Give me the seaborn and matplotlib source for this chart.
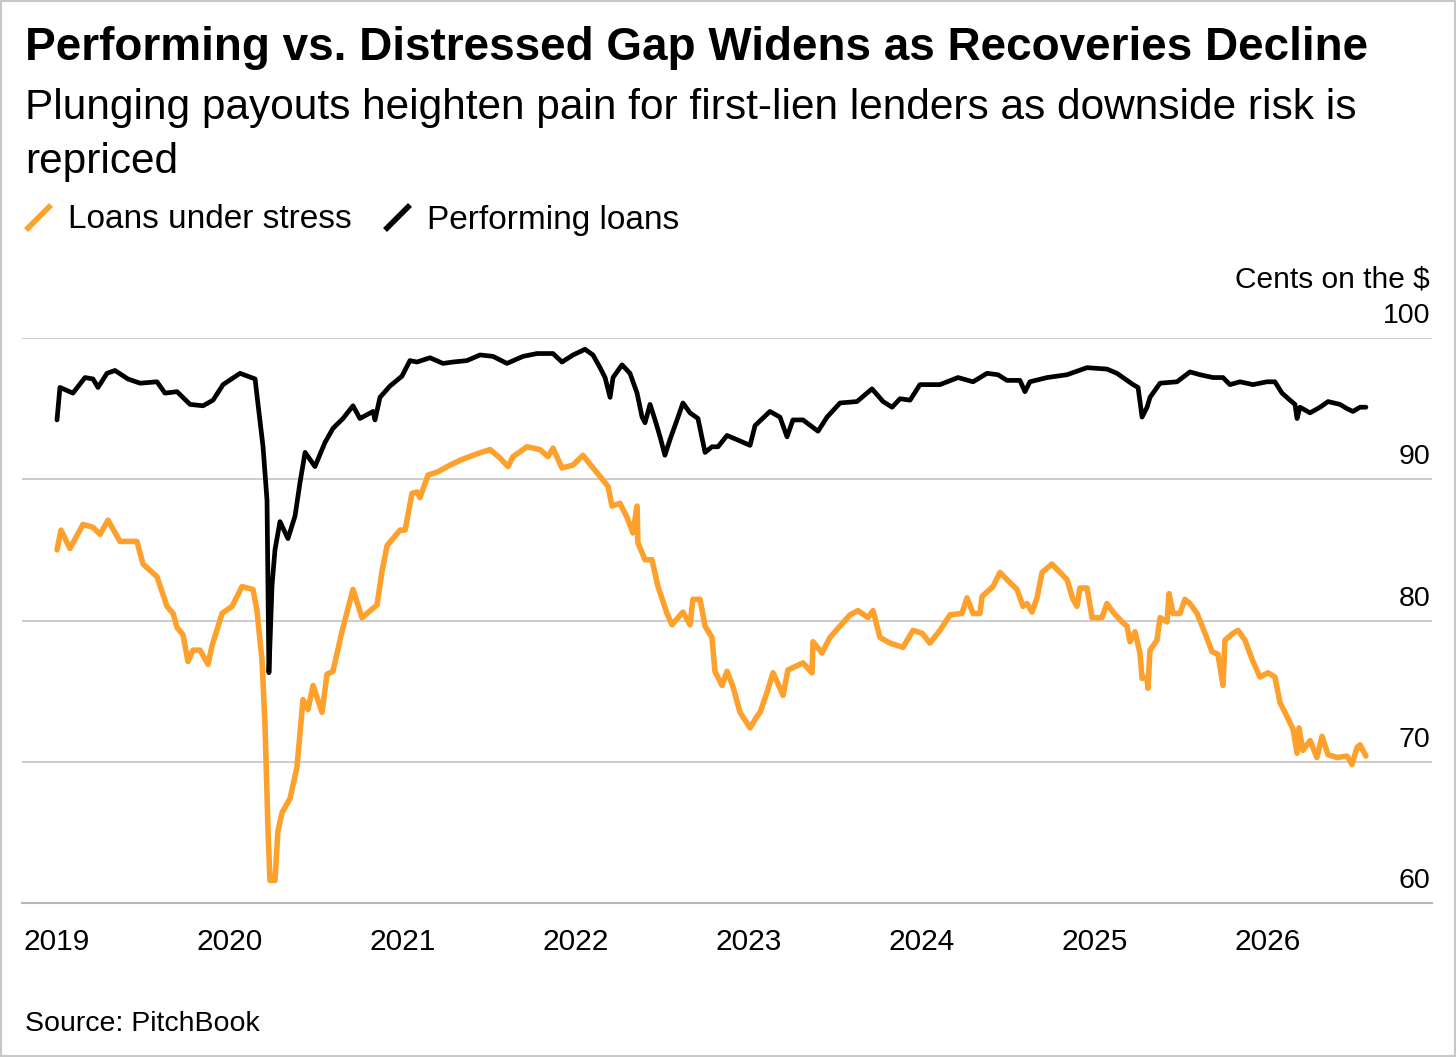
import matplotlib
matplotlib.use("Agg")
import matplotlib.pyplot as plt
import matplotlib.transforms as mtransforms
from matplotlib.lines import Line2D
from matplotlib.patches import Rectangle
from matplotlib.ticker import FixedLocator, MultipleLocator
import seaborn as sns
import pandas as pd

# ---------------- data (decimal years, cents on the dollar) ----------------
perf_t = [2019.000, 2019.017, 2019.092, 2019.162, 2019.208, 2019.237, 2019.289, 2019.335,
          2019.410, 2019.480, 2019.578, 2019.624, 2019.694, 2019.769, 2019.844, 2019.902,
          2019.960, 2020.058, 2020.145, 2020.162, 2020.191, 2020.214, 2020.225, 2020.243,
          2020.260, 2020.289, 2020.335, 2020.376, 2020.405, 2020.434, 2020.491, 2020.549,
          2020.595, 2020.653, 2020.711, 2020.751, 2020.827, 2020.838, 2020.867, 2020.925,
          2020.994, 2021.040, 2021.081, 2021.156, 2021.231, 2021.289, 2021.370, 2021.445,
          2021.520, 2021.601, 2021.694, 2021.775, 2021.867, 2021.919, 2021.983, 2022.052,
          2022.098, 2022.139, 2022.168, 2022.197, 2022.214, 2022.266, 2022.312, 2022.353,
          2022.382, 2022.399, 2022.428, 2022.457, 2022.486, 2022.514, 2022.543, 2022.584,
          2022.618, 2022.659, 2022.705, 2022.746, 2022.786, 2022.821, 2022.873, 2022.931,
          2023.006, 2023.035, 2023.121, 2023.179, 2023.220, 2023.254, 2023.312, 2023.399,
          2023.451, 2023.526, 2023.624, 2023.711, 2023.775, 2023.827, 2023.873, 2023.931,
          2023.988, 2024.104, 2024.208, 2024.295, 2024.376, 2024.439, 2024.491, 2024.566,
          2024.595, 2024.624, 2024.723, 2024.838, 2024.954, 2025.069, 2025.127, 2025.185,
          2025.220, 2025.249, 2025.272, 2025.301, 2025.318, 2025.376, 2025.474, 2025.549,
          2025.607, 2025.682, 2025.740, 2025.780, 2025.838, 2025.913, 2025.994, 2026.040,
          2026.081, 2026.127, 2026.156, 2026.168, 2026.185, 2026.243, 2026.301, 2026.347,
          2026.416, 2026.457, 2026.491, 2026.532, 2026.566]
perf_v = [94.2, 96.5, 96.1, 97.2, 97.1, 96.5, 97.5, 97.7,
          97.1, 96.8, 96.9, 96.1, 96.2, 95.3, 95.2, 95.6,
          96.7, 97.5, 97.1, 95.3, 92.3, 88.5, 76.3, 82.5,
          85.0, 87.0, 85.8, 87.4, 89.8, 91.9, 90.9, 92.6,
          93.6, 94.3, 95.2, 94.3, 94.8, 94.2, 95.8, 96.6,
          97.3, 98.4, 98.3, 98.6, 98.2, 98.3, 98.4, 98.8,
          98.7, 98.2, 98.7, 98.9, 98.9, 98.3, 98.8, 99.2,
          98.8, 97.9, 97.2, 95.8, 97.2, 98.1, 97.5, 96.1,
          94.4, 94.0, 95.3, 94.2, 93.0, 91.7, 92.8, 94.2,
          95.4, 94.7, 94.3, 91.9, 92.3, 92.3, 93.1, 92.8,
          92.4, 93.8, 94.8, 94.4, 93.0, 94.2, 94.2, 93.4,
          94.4, 95.4, 95.5, 96.4, 95.5, 95.1, 95.7, 95.6,
          96.7, 96.7, 97.2, 96.9, 97.5, 97.4, 97.0, 97.0,
          96.2, 96.9, 97.2, 97.4, 97.9, 97.8, 97.5, 97.0,
          96.7, 96.5, 94.4, 95.1, 95.8, 96.8, 96.9, 97.6,
          97.4, 97.2, 97.2, 96.7, 96.9, 96.7, 96.9, 96.9,
          96.1, 95.6, 95.3, 94.3, 95.1, 94.7, 95.1, 95.5,
          95.3, 95.0, 94.8, 95.1, 95.1]

stress_t = [2019.000, 2019.023, 2019.075, 2019.150, 2019.208, 2019.249, 2019.295, 2019.364,
            2019.462, 2019.497, 2019.578, 2019.636, 2019.671, 2019.694, 2019.728, 2019.757,
            2019.786, 2019.827, 2019.873, 2019.896, 2019.954, 2020.012, 2020.069, 2020.133,
            2020.156, 2020.185, 2020.202, 2020.220, 2020.231, 2020.260, 2020.277, 2020.301,
            2020.347, 2020.387, 2020.422, 2020.451, 2020.480, 2020.532, 2020.561, 2020.595,
            2020.647, 2020.711, 2020.763, 2020.850, 2020.879, 2020.908, 2020.983, 2021.012,
            2021.052, 2021.081, 2021.098, 2021.145, 2021.197, 2021.272, 2021.341, 2021.428,
            2021.503, 2021.561, 2021.607, 2021.636, 2021.717, 2021.792, 2021.838, 2021.867,
            2021.919, 2021.983, 2022.040, 2022.092, 2022.139, 2022.185, 2022.208, 2022.254,
            2022.295, 2022.329, 2022.353, 2022.358, 2022.399, 2022.439, 2022.474, 2022.526,
            2022.555, 2022.618, 2022.659, 2022.676, 2022.717, 2022.746, 2022.786, 2022.803,
            2022.844, 2022.873, 2022.908, 2022.948, 2023.006, 2023.046, 2023.064, 2023.104,
            2023.139, 2023.197, 2023.225, 2023.312, 2023.364, 2023.370, 2023.422, 2023.468,
            2023.526, 2023.584, 2023.630, 2023.688, 2023.717, 2023.757, 2023.815, 2023.890,
            2023.948, 2024.000, 2024.046, 2024.104, 2024.162, 2024.231, 2024.260, 2024.295,
            2024.335, 2024.347, 2024.410, 2024.451, 2024.491, 2024.549, 2024.584, 2024.607,
            2024.636, 2024.665, 2024.694, 2024.751, 2024.798, 2024.838, 2024.873, 2024.896,
            2024.913, 2024.954, 2024.983, 2025.040, 2025.069, 2025.104, 2025.156, 2025.185,
            2025.202, 2025.231, 2025.260, 2025.272, 2025.301, 2025.306, 2025.318, 2025.358,
            2025.376, 2025.416, 2025.428, 2025.451, 2025.491, 2025.520, 2025.549, 2025.590,
            2025.636, 2025.676, 2025.711, 2025.740, 2025.751, 2025.798, 2025.827, 2025.867,
            2025.913, 2025.954, 2026.000, 2026.040, 2026.069, 2026.098, 2026.145, 2026.168,
            2026.179, 2026.202, 2026.243, 2026.283, 2026.312, 2026.347, 2026.399, 2026.457,
            2026.486, 2026.514, 2026.532, 2026.566]
stress_v = [85.0, 86.4, 85.1, 86.8, 86.6, 86.1, 87.1, 85.6,
            85.6, 84.0, 83.1, 81.0, 80.5, 79.5, 79.0, 77.1,
            77.9, 77.9, 76.9, 78.2, 80.5, 81.0, 82.4, 82.2,
            80.7, 77.2, 72.7, 65.1, 61.6, 61.6, 65.1, 66.4,
            67.4, 69.6, 74.4, 73.7, 75.4, 73.5, 76.2, 76.4,
            79.2, 82.2, 80.2, 81.1, 83.5, 85.3, 86.4, 86.4,
            89.0, 89.1, 88.7, 90.3, 90.5, 91.0, 91.4, 91.8,
            92.1, 91.5, 90.9, 91.6, 92.3, 92.1, 91.6, 92.2,
            90.8, 91.0, 91.7, 90.9, 90.2, 89.5, 88.1, 88.3,
            87.3, 86.2, 88.1, 85.5, 84.3, 84.3, 82.4, 80.5,
            79.7, 80.6, 79.7, 81.5, 81.5, 79.6, 78.8, 76.4,
            75.4, 76.4, 75.3, 73.5, 72.4, 73.2, 73.5, 74.9,
            76.3, 74.7, 76.5, 77.0, 76.3, 78.5, 77.7, 78.8,
            79.6, 80.4, 80.7, 80.2, 80.7, 78.8, 78.4, 78.1,
            79.3, 79.1, 78.4, 79.3, 80.4, 80.5, 81.6, 80.5,
            80.5, 81.7, 82.4, 83.4, 82.9, 82.2, 81.0, 81.2,
            80.6, 81.6, 83.4, 84.0, 83.4, 82.9, 81.5, 81.0,
            82.3, 82.3, 80.2, 80.2, 81.2, 80.6, 79.9, 79.6,
            78.5, 79.2, 77.7, 75.9, 76.0, 75.2, 77.9, 78.6,
            80.2, 79.9, 81.9, 80.5, 80.5, 81.5, 81.2, 80.5,
            79.1, 77.8, 77.6, 75.4, 78.6, 79.1, 79.3, 78.6,
            77.1, 76.0, 76.3, 76.0, 74.2, 73.5, 72.3, 70.6,
            72.4, 70.8, 71.5, 70.3, 71.8, 70.5, 70.3, 70.4,
            69.8, 71.0, 71.2, 70.4]

year_ticks = [2019, 2020, 2021, 2022, 2023, 2024, 2025, 2026]
year_labels = ["2019", "2020", "2021", "2022", "2023", "2024", "2025", "2026"]
y_ticks = [60, 70, 80, 90, 100]
y_labels = ["60", "70", "80", "90", "100"]

title = "Performing vs. Distressed Gap Widens as Recoveries Decline"
subtitle_lines = ["Plunging payouts heighten pain for first-lien lenders as downside risk is",
                  "repriced"]
stress_name = "Loans under stress"
perf_name = "Performing loans"
unit_label = "Cents on the $"
source = "Source: PitchBook"

ORANGE = "#FDA02C"
BLACK = "#000000"

# ---------------- figure ----------------
sns.set_theme(style="white")
plt.rcParams["font.family"] = ["Liberation Sans", "DejaVu Sans"]

W, H = 1456, 1057
fig = plt.figure(figsize=(W / 100, H / 100), dpi=100)
fig.patch.set_facecolor("white")

ax_left, ax_right = 22 / W, 1432 / W
ax_bottom, ax_top = 1 - 903 / H, 1 - 338 / H
ax = fig.add_axes([ax_left, ax_bottom, ax_right - ax_left, ax_top - ax_bottom])

df_s = pd.DataFrame({"t": stress_t, "v": stress_v})
df_p = pd.DataFrame({"t": perf_t, "v": perf_v})

sns.lineplot(data=df_s, x="t", y="v", ax=ax, color=ORANGE, lw=4.0,
             estimator=None, sort=False, solid_joinstyle="round", solid_capstyle="round")
sns.lineplot(data=df_p, x="t", y="v", ax=ax, color=BLACK, lw=3.4,
             estimator=None, sort=False, solid_joinstyle="round", solid_capstyle="round")

x0 = 2019 - 35 / 173
x1 = 2019 + 1375 / 173
ax.set_xlim(x0, x1)
ax.set_ylim(60, 100)
ax.set_xlabel("")
ax.set_ylabel("")

for s in ["top", "right", "left"]:
    ax.spines[s].set_visible(False)
ax.spines["bottom"].set_color("#b8b8b8")
ax.spines["bottom"].set_linewidth(1.5)

# gridlines
ax.set_yticks(y_ticks)
ax.set_yticklabels([])
ax.tick_params(axis="y", length=0)
ax.grid(axis="y", color="#cccccc", lw=1.4)
ax.grid(axis="x", visible=False)
ax.set_axisbelow(True)

# y labels above gridlines, right-aligned
off = mtransforms.offset_copy(ax.get_yaxis_transform(), fig=fig, x=-2, y=9, units="dots")
for v, lab in zip(y_ticks, y_labels):
    ax.text(1.0, v, lab, transform=off, ha="right", va="bottom", fontsize=20.5, color="#000000")
fig.text(1430 / W, 1 - 287 / H, unit_label, ha="right", va="baseline", fontsize=21.5,
         color="#000000")

# x ticks
ax.xaxis.set_major_locator(FixedLocator(year_ticks))
ax.set_xticklabels(year_labels)
ax.xaxis.set_minor_locator(MultipleLocator(0.25))
ax.tick_params(axis="x", which="major", length=11, width=1.5, color="#222222",
               labelsize=21.5, pad=7, labelcolor="#000000")
ax.tick_params(axis="x", which="minor", length=7, width=1.2, color="#bdbdbd")

# titles
fig.text(25 / W, 1 - 60 / H, title, ha="left", va="baseline", fontsize=33,
         fontweight="bold", color="#000000")
fig.text(25 / W, 1 - 119 / H, subtitle_lines[0], ha="left", va="baseline", fontsize=30.5,
         color="#000000")
fig.text(25 / W, 1 - 173 / H, subtitle_lines[1], ha="left", va="baseline", fontsize=30.5,
         color="#000000")
fig.text(25 / W, 1 - 1031 / H, source, ha="left", va="baseline", fontsize=20.5, color="#000000")

# legend
slash = [(-1, -1), (1, 1)]
handles = [
    Line2D([], [], color=ORANGE, lw=0, marker=slash, markersize=18,
           markeredgewidth=4, markeredgecolor=ORANGE),
    Line2D([], [], color=BLACK, lw=0, marker=slash, markersize=18,
           markeredgewidth=4, markeredgecolor=BLACK),
]
leg = fig.legend(handles, [stress_name, perf_name], loc="center left",
                 bbox_to_anchor=(18 / W, 1 - 220 / H), ncol=2, frameon=False,
                 fontsize=24, handlelength=1.2, handletextpad=0.3, columnspacing=0.75,
                 borderaxespad=0, borderpad=0, labelcolor="#000000")

# outer border
fig.add_artist(Rectangle((0.0005, 0.0005), 0.999, 0.999, transform=fig.transFigure,
                         fill=False, edgecolor="#c8c8c8", lw=1.5))

fig.savefig("out.png", dpi=100, facecolor="white")
